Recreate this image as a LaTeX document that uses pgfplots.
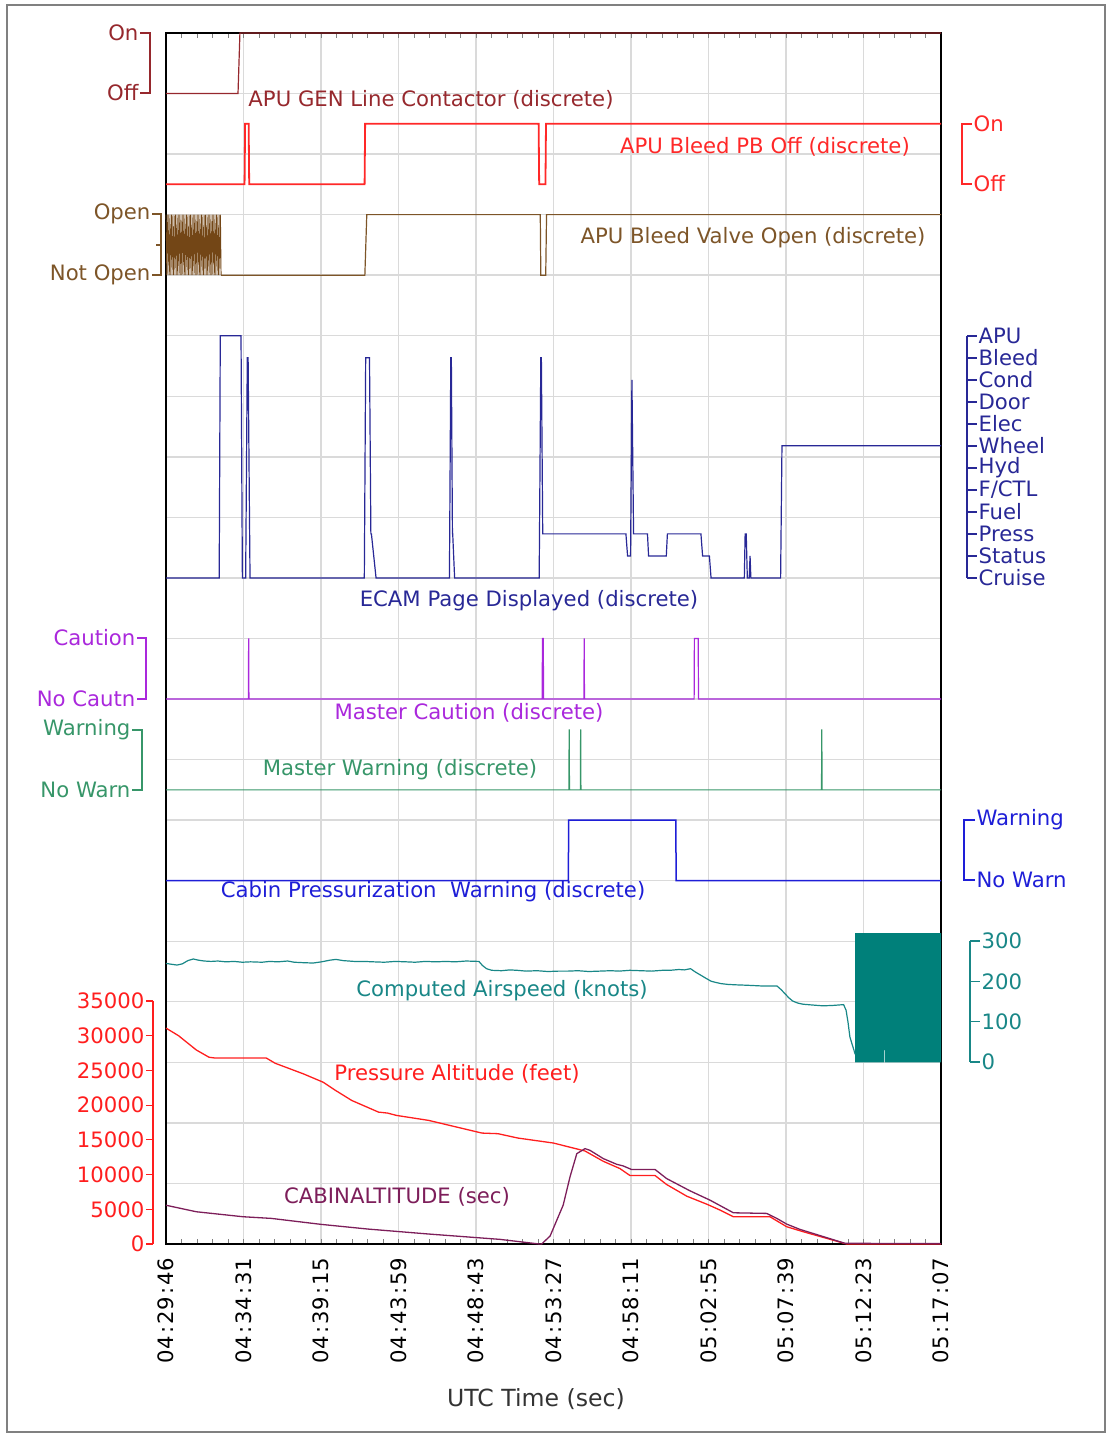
\documentclass[border=0pt]{standalone}
\usepackage{pgfplots}
\pgfplotsset{compat=1.18}
\usepackage{fontspec}
\setmainfont{DejaVu Sans}
\setsansfont{DejaVu Sans}

\definecolor{gencol}{RGB}{150,40,45}
\definecolor{pbcol}{RGB}{255,40,40}
\definecolor{valvecol}{RGB}{125,85,40}
\definecolor{valvedark}{RGB}{115,70,22}
\definecolor{ecamcol}{RGB}{40,40,150}
\definecolor{cautcol}{RGB}{170,40,220}
\definecolor{warncol}{RGB}{55,150,105}
\definecolor{cabcol}{RGB}{30,30,215}
\definecolor{cascol}{RGB}{25,135,135}
\definecolor{blockcol}{RGB}{0,128,122}
\definecolor{altcol}{RGB}{255,30,30}
\definecolor{cabaltcol}{RGB}{125,30,90}
\definecolor{gridcol}{RGB}{218,218,218}

\newcommand\cl{\kern1.2pt:\kern1.2pt}

\pgfplotsset{
  base/.style={scale only axis, width=387.5pt, height=605.5pt,
    at={(0,0)}, anchor=south west, xmin=0, xmax=2841},
  layer/.style={base, hide axis, clip=false},
}

\begin{document}
\begin{tikzpicture}[font=\fontsize{10.6}{12.5}\selectfont]
% grid, frame and time axis
\begin{axis}[base, name=main, ymin=0, ymax=20,
  xtick={0,284.1,568.2,852.3,1136.4,1420.5,1704.6,1988.7,2272.8,2556.9,2841},
  xticklabels={04\cl29\cl46,04\cl34\cl31,04\cl39\cl15,04\cl43\cl59,04\cl48\cl43,04\cl53\cl27,04\cl58\cl11,05\cl02\cl55,05\cl07\cl39,05\cl12\cl23,05\cl17\cl07},
  tick label style={font=\fontsize{10.6}{12.5}\selectfont},
  xticklabel style={rotate=90, anchor=east, inner sep=0pt},
  xticklabel shift=7pt,
  minor x tick num=4,
  ytick={0,1,...,20}, yticklabels={},
  ytick style={draw=none},
  xtick style={gray, line width=0.4pt},
  tick align=inside, major tick length=2.5pt, minor tick length=2.5pt,
  grid=major, grid style={gridcol, line width=0.7pt},
  axis line style={black, line width=0.6pt},
]
\end{axis}

% APU GEN Line Contactor (0 = Off, 1 = On)
\begin{axis}[layer, ymin=-19, ymax=1]
\addplot[gencol, line width=0.6pt] coordinates {(0,0)(264,0)(271,1)(2841,1)};
\end{axis}

% APU Bleed PB Off
\begin{axis}[layer, ymin=-17.5, ymax=2.5]
\addplot[pbcol, line width=0.9pt] coordinates {(0,0)(288,0)(290,1)(303,1)(305,0)(728,0)(730,1)(1366,1)(1368,0)(1391,0)(1393,1)(2841,1)};
\end{axis}

% APU Bleed Valve Open
\begin{axis}[layer, ymin=-16, ymax=4]
\addplot[valvedark, line width=0.3pt] coordinates {(0,1)(2.5,0)(5,1)(7.5,0)(10,1)(12.5,0)(15,1)(17.5,0)(20,1)(22.5,0)(25,1)(27.5,0)(30,1)(32.5,0)(35,1)(37.5,0)(40,1)(42.5,0)(45,1)(47.5,0)(50,1)(52.5,0)(55,1)(57.5,0)(60,1)(62.5,0)(65,1)(67.5,0)(70,1)(72.5,0)(75,1)(77.5,0)(80,1)(82.5,0)(85,1)(87.5,0)(90,1)(92.5,0)(95,1)(97.5,0)(100,1)(102.5,0)(105,1)(107.5,0)(110,1)(112.5,0)(115,1)(117.5,0)(120,1)(122.5,0)(125,1)(127.5,0)(130,1)(132.5,0)(135,1)(137.5,0)(140,1)(142.5,0)(145,1)(147.5,0)(150,1)(152.5,0)(155,1)(157.5,0)(160,1)(162.5,0)(165,1)(167.5,0)(170,1)(172.5,0)(175,1)(177.5,0)(180,1)(182.5,0)(185,1)(187.5,0)(190,1)(192.5,0)(195,1)(197.5,0)(200,1)(202.5,0)};
\addplot[valvecol, line width=0.6pt] coordinates {(202.5,0)(729,0)(736,1)(1372,1)(1374,0)(1392,0)(1395,1)(2841,1)};
\end{axis}

% ECAM Page Displayed (0 = Cruise ... 11 = APU)
\begin{axis}[layer, ymin=-30.25, ymax=24.75]
\addplot[ecamcol, line width=0.6pt] coordinates {(0,0)(195,0)(199,11)(275,11)(280,0)(292,0)(298,10)(301,10)(308,0)(727,0)(732,10)(746,10)(751,2)(753,2)(770,0)(1039,0)(1044,10)(1046,10)(1050,2)(1051,2)(1058,0)(1368,0)(1374,10)(1376,10)(1381,2)(1686,2)(1692,1)(1703,1)(1708,9)(1714,2)(1765,2)(1769,1)(1834,1)(1838,2)(1961,2)(1967,1)(1992,1)(1998,0)(2120,0)(2123,2)(2127,2)(2131,0)(2138,0)(2141,1)(2144,0)(2253,0)(2258,6)(2841,6)};
\end{axis}

% Master Caution
\begin{axis}[layer, ymin=-9, ymax=11]
\addplot[cautcol, line width=0.6pt] coordinates {(0,0)(302,0)(303,1)(304,0)(1379,0)(1380,1)(1383,1)(1384,0)(1532,0)(1533,1)(1534,0)(1936,0)(1937,1)(1951,1)(1952,0)(2841,0)};
\end{axis}

% Master Warning
\begin{axis}[layer, ymin=-7.5, ymax=12.5]
\addplot[warncol, line width=0.6pt] coordinates {(0,0)(1477,0)(1478,1)(1479,0)(1519,0)(1520,1)(1521,0)(2403,0)(2404,1)(2405,0)(2841,0)};
\end{axis}

% Cabin Pressurization Warning
\begin{axis}[layer, ymin=-6, ymax=14]
\addplot[cabcol, line width=0.75pt] coordinates {(0,0)(1475,0)(1476,1)(1869,1)(1870,0)(2841,0)};
\end{axis}

% Computed Airspeed (knots)
\begin{axis}[layer, ymin=-450, ymax=2550]
\addplot[blockcol, draw=none, fill=blockcol] coordinates {(2526,0)(2526,320)(2841,320)(2841,0)(2636,0)(2636,30)(2633,30)(2633,0)} -- cycle;
\addplot[cascol, line width=0.6pt] coordinates {(0,245)(20,243)(40,241)(60,244)(80,252)(100,256)(120,253)(140,251)(165,250)(190,251)(220,249)(250,250)(280,248)(310,249)(352,248)(380,250)(410,249)(446,251)(470,248)(500,247)(539,246)(570,249)(600,253)(623,255)(650,252)(690,250)(726,250)(760,249)(800,248)(840,250)(880,249)(913,248)(950,250)(990,249)(1025,250)(1060,249)(1100,251)(1147,250)(1160,240)(1175,232)(1194,228)(1230,227)(1260,229)(1287,228)(1320,226)(1360,227)(1400,225)(1440,226)(1474,226)(1510,227)(1550,225)(1590,226)(1630,227)(1661,226)(1700,228)(1740,227)(1780,226)(1820,228)(1848,228)(1880,230)(1900,229)(1923,232)(1940,224)(1960,216)(1980,208)(1998,201)(2015,198)(2035,195)(2060,193)(2090,192)(2129,191)(2160,190)(2190,189)(2221,189)(2240,189)(2255,180)(2269,170)(2283,160)(2297,152)(2315,147)(2335,144)(2370,142)(2408,140)(2445,141)(2484,143)(2493,129)(2500,100)(2507,63)(2515,45)(2522,30)(2526,20)};
\end{axis}

% Pressure Altitude and Cabin Altitude (feet)
\begin{axis}[layer, ymin=0, ymax=175000]
\addplot[altcol, line width=0.65pt] coordinates {(0,31200)(46,30100)(111,28040)(158,26980)(177,26890)(367,26890)(400,26120)(504,24580)(576,23380)(622,22180)(681,20740)(779,19060)(812,18920)(845,18580)(963,17860)(1158,16030)(1217,15940)(1290,15310)(1420,14590)(1536,13440)(1603,11950)(1664,10900)(1701,9890)(1793,9890)(1835,8600)(1909,6910)(1982,5760)(2031,4900)(2080,3940)(2214,3940)(2275,2500)(2336,1770)(2495,0)(2841,0)};
\addplot[cabaltcol, line width=0.65pt] coordinates {(0,5600)(111,4660)(282,3940)(386,3700)(570,2830)(740,2160)(963,1440)(1224,670)(1368,0)(1377,0)(1408,1150)(1456,5620)(1481,9700)(1506,13060)(1536,13780)(1554,13540)(1603,12340)(1652,11520)(1676,11280)(1707,10760)(1793,10760)(1835,9460)(1921,7680)(1994,6340)(2080,4510)(2202,4420)(2239,3700)(2275,2880)(2324,2110)(2489,100)(2841,50)};
\end{axis}

% scales, brackets and series names, in pixel units of the layout
\begin{scope}[x=0.5pt, y=-0.5pt, shift={(-83pt,622pt)}, line width=0.6pt]
\draw[gray, line width=1pt] (7,5) rectangle (1105,1432);
% APU GEN
\draw[gencol] (140,33) -- (150,33) -- (150,93) -- (140,93);
\node[anchor=east, text=gencol, inner sep=0.5pt] at (140,33) {On};
\node[anchor=east, text=gencol, inner sep=0.5pt] at (140,93) {Off};
\node[text=gencol] at (431,100) {APU GEN Line Contactor (discrete)};
% APU Bleed PB
\draw[pbcol] (972,124) -- (962,124) -- (962,184) -- (972,184);
\node[anchor=west, text=pbcol, inner sep=0.5pt] at (972,124) {On};
\node[anchor=west, text=pbcol, inner sep=0.5pt] at (972,184) {Off};
\node[text=pbcol] at (765,147) {APU Bleed PB Off (discrete)};
% APU Bleed Valve
\draw[valvecol] (152,214) -- (161,214) -- (161,275) -- (152,275) (156,245) -- (161,245);
\node[anchor=east, text=valvecol, inner sep=0.5pt] at (152,214) {Open};
\node[anchor=east, text=valvecol, inner sep=0.5pt] at (152,275) {Not Open};
\node[text=valvecol] at (753,238) {APU Bleed Valve Open (discrete)};
% ECAM
\draw[ecamcol] (967,336) -- (967,578);
\foreach \k/\lab in {0/APU,1/Bleed,2/Cond,3/Door,4/Elec,5/Wheel,6/Hyd,7/{F/CTL},8/Fuel,9/Press,10/Status,11/Cruise} {
  \draw[ecamcol] (967,336+22*\k) -- (977,336+22*\k);
  \node[anchor=west, text=ecamcol, inner sep=0.5pt] at (977,336+22*\k) {\lab};
}
\node[text=ecamcol] at (529,601) {ECAM Page Displayed (discrete)};
% Master Caution
\draw[cautcol] (137,638) -- (146,638) -- (146,699) -- (137,699);
\node[anchor=east, text=cautcol, inner sep=0.5pt] at (137,638) {Caution};
\node[anchor=east, text=cautcol, inner sep=0.5pt] at (137,699) {No Cautn};
\node[text=cautcol] at (469,713) {Master Caution (discrete)};
% Master Warning
\draw[warncol] (132,730) -- (142,730) -- (142,790) -- (132,790);
\node[anchor=east, text=warncol, inner sep=0.5pt] at (132,730) {Warning};
\node[anchor=east, text=warncol, inner sep=0.5pt] at (132,790) {No Warn};
\node[text=warncol] at (400,770) {Master Warning (discrete)};
% Cabin Pressurization Warning
\draw[cabcol] (975,820) -- (964,820) -- (964,880) -- (975,880);
\node[anchor=west, text=cabcol, inner sep=0.5pt] at (975,820) {Warning};
\node[anchor=west, text=cabcol, inner sep=0.5pt] at (975,880) {No Warn};
\node[text=cabcol] at (433,892) {Cabin Pressurization~ Warning (discrete)};
% Airspeed scale
\draw[cascol] (970,941) -- (970,1062);
\foreach \v/\lab in {0/300,1/200,2/100,3/0} {
  \draw[cascol] (970,941+40.33*\v) -- (980,941+40.33*\v);
  \node[anchor=west, text=cascol, inner sep=0.5pt] at (980,941+40.33*\v) {\lab};
}
\node[text=cascol] at (502,991) {Computed Airspeed (knots)};
% Altitude scale
\draw[altcol] (153,1001) -- (153,1244);
\foreach \v/\lab in {0/0,1/5000,2/10000,3/15000,4/20000,5/25000,6/30000,7/35000} {
  \draw[altcol] (146,1244-34.71*\v) -- (153,1244-34.71*\v);
  \node[anchor=east, text=altcol, inner sep=0.5pt] at (146,1244-34.71*\v) {\lab};
}
\node[text=altcol] at (457,1074) {Pressure Altitude (feet)};
\node[text=cabaltcol] at (397,1197) {CABINALTITUDE (sec)};
\node[text=black!80] at (536,1399) {\fontsize{11.8}{14}\selectfont UTC Time (sec)};
\pgfresetboundingbox
\path[use as bounding box] (0,0) rectangle (1113,1439);
\end{scope}
\end{tikzpicture}
\end{document}
